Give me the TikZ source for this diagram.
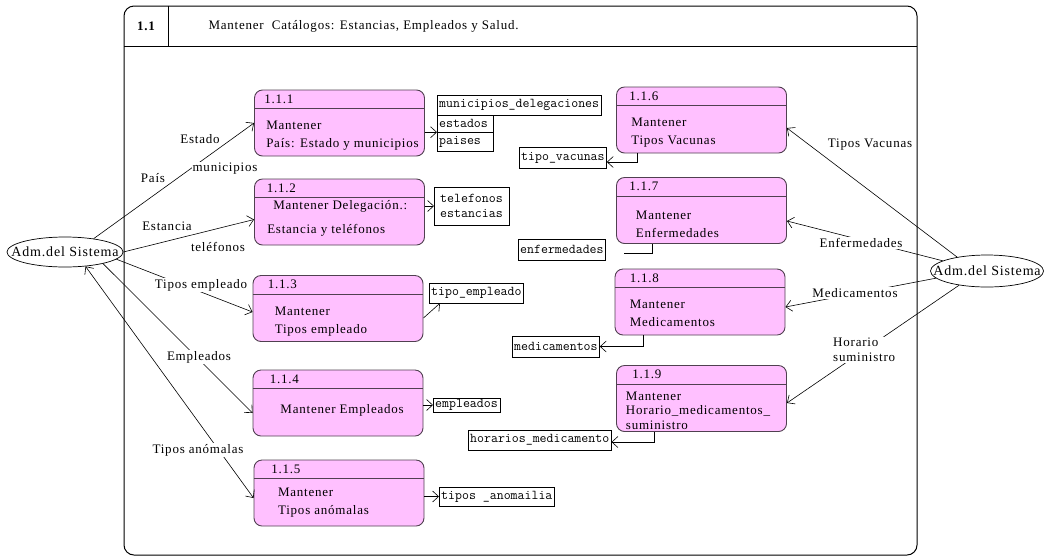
\documentclass[tikz,border=0pt]{standalone}
\usepackage{fontspec}
\setmainfont{Liberation Serif}[LetterSpace=6]
\usetikzlibrary{arrows.meta,calc,shapes.geometric}
\definecolor{rosaproc}{RGB}{255,192,255}
\definecolor{bordeproc}{RGB}{80,64,80}

\begin{document}
\begin{tikzpicture}[x=1pt,y=-1pt,
    font=\fontsize{13}{18}\selectfont,
    proceso/.style={draw=bordeproc, fill=rosaproc, line width=0.9pt, rounded corners=8pt,
      minimum width=170pt, minimum height=66pt, inner sep=0pt},
    cuerpo/.style={anchor=west, align=left, inner sep=0pt},
    almacen/.style={draw, fill=white, anchor=west, inner xsep=2pt, inner ysep=0pt,
      font=\ttfamily\fontsize{13.5}{15}\selectfont, align=left},
    actor/.style={draw, ellipse, inner sep=0pt, line width=0.7pt},
    rotulo/.style={font=\fontsize{14}{16}\selectfont},
    flujo/.style={-{Straight Barb[length=6pt,width=11pt]}, line width=0.6pt},
    flujodoble/.style={{Straight Barb[length=6pt,width=11pt]}-{Straight Barb[length=6pt,width=11pt]}, line width=0.6pt},
    etiqueta/.style={fill=white, inner sep=1pt}]

  \useasboundingbox (0,0) rectangle (1046,558);
  % Marco del diagrama
  \draw[line width=1pt, rounded corners=10pt] (124,6) rectangle (917,555);
  \draw[line width=1pt] (124,46) -- (917,46);
  \draw[line width=1pt] (168,6) -- (168,46);
  \node[font=\bfseries\fontsize{13}{15}\selectfont] (num) at (146,26) {1.1};
  \node[anchor=west] (titulo) at (205,26) {Mantener\ \ Catálogos: Estancias, Empleados y Salud.};

  % Procesos
  \foreach \n/\etq/\cx/\cy/\dx in {111/1.1.1/339.5/123/10, 112/1.1.2/339.5/212/12.5,
      113/1.1.3/338/308.5/15, 114/1.1.4/338/403/17, 115/1.1.5/339/493/17.5,
      116/1.1.6/701.5/120/13, 117/1.1.7/701.5/210.5/13, 118/1.1.8/700/302/15,
      119/1.1.9/701.5/398.5/16}{
    \node[proceso] (p\n) at (\cx,\cy) {};
    \draw[bordeproc, line width=0.9pt] ($(p\n.north west)+(0,19)$) -- ($(p\n.north east)+(0,19)$);
    \node[anchor=west, inner sep=0pt] (n\n) at ($(p\n.north west)+(\dx,9.5)$) {\etq};
  }
  \node[cuerpo] (c111) at ($(p111.west)+(12,12.5)$) {Mantener\\País: Estado y municipios};
  \node[cuerpo] (c112a) at ($(p112.west)+(19,-6)$) {Mantener Delegación.:};
  \node[cuerpo] (c112b) at ($(p112.west)+(13,18)$) {Estancia y teléfonos};
  \node[cuerpo] (c113) at ($(p113.west)+(22,12.7)$) {Mantener\\Tipos empleado};
  \node[cuerpo] (c114) at ($(p114.west)+(27.7,7)$) {Mantener Empleados};
  \node[cuerpo] (c115) at ($(p115.west)+(24.3,9.2)$) {Mantener\\Tipos anómalas};
  \node[cuerpo] (c116) at ($(p116.west)+(15,12.2)$) {Mantener\\Tipos Vacunas};
  \node[cuerpo] (c117) at ($(p117.west)+(19.7,13.3)$) {Mantener\\Enfermedades};
  \node[cuerpo] (c118) at ($(p118.west)+(15,11.2)$) {Mantener\\Medicamentos};
  \node[cuerpo, font=\fontsize{13}{14.5}\selectfont] (c119) at ($(p119.west)+(9.7,12)$)
    {Mantener\\Horario\_medicamentos\_\\suministro};

  % Almacenes
  \node[almacen, minimum height=20pt] (mundel) at (437,105) {municipios\_delegaciones};
  \node[almacen, minimum height=17pt, text width=52pt] (estados) at (437,123.5) {estados};
  \node[almacen, minimum height=19pt, text width=52pt] (paises) at (437,142) {paises};
  \node[almacen, minimum height=38pt, inner xsep=6pt] (telest) at (434,206) {telefonos\\estancias};
  \node[almacen, minimum height=20pt] (tipoemp) at (429,293) {tipo\_empleado};
  \node[almacen, minimum height=14pt] (empleados) at (433,405) {empleados};
  \node[almacen, minimum height=19pt] (tiposanom) at (439,496.5) {tipos \_anomailia};
  \node[almacen, minimum height=21pt] (tipovac) at (519,157.5) {tipo\_vacunas};
  \node[almacen, minimum height=21pt] (enferm) at (518,249.5) {enfermedades};
  \node[almacen, minimum height=21pt] (medic) at (512,346.5) {medicamentos};
  \node[almacen, minimum height=20pt] (horarios) at (468,440) {horarios\_medicamento};

  % Procesos a almacenes
  \draw[flujo] (p111.east |- estados.south west) -- (estados.south west);
  \draw[flujo] (p112.east |- telest.west) -- (telest.west);
  \draw[flujo] ($(p113.east)+(0,9.5)$) -- ($(tipoemp.south west)+(11,0)$);
  \draw[flujo] (p114.east |- empleados.west) -- (empleados.west);
  \draw[flujo] (p115.east |- tiposanom.west) -- (tiposanom.west);
  \draw[flujo] ($(p116.south west)+(21,0)$) |- ($(tipovac.east)+(0,4.5)$);
  \draw[line width=0.6pt] ($(p117.south west)+(36,0)$) |- ($(enferm.east)+(18,3.5)$);
  \draw[flujo] ($(p118.south west)+(29,0)$) |- (medic.east);
  \draw[flujo] ($(p119.south west)+(38,0)$) |- ($(horarios.east)+(0,2)$);

  % Actores
  \node[actor, minimum width=116pt, minimum height=30pt, label={[rotulo]center:Adm.del Sistema}] (admizq) at (65,252) {};
  \node[actor, minimum width=113pt, minimum height=32pt, label={[rotulo]center:Adm.del Sistema}] (admder) at (987,271) {};

  % Flujos del actor izquierdo
  \draw[flujo] (admizq.25) -- (p111.west);
  \draw[flujo] (admizq.east) -- ($(p112.west)+(0,7.5)$);
  \draw[flujo] (admizq.-8) -- ($(p113.west)+(0,3.5)$);
  \draw[flujo] (admizq.-17) -- ($(p114.west)+(0,10)$);
  \draw[flujodoble] (admizq.-35) -- ($(p115.west)+(0,5)$);
  % Flujos del actor derecho
  \draw[flujo] (admder.155) -- ($(p116.east)+(0,8)$);
  \draw[flujo] (admder.167) -- ($(p117.east)+(0,10.5)$);
  \draw[flujo] (admder.188) -- ($(p118.east)+(0,5)$);
  \draw[flujo] (admder.207) -- ($(p119.east)+(0,4.5)$);

  % Etiquetas de los flujos
  \node[etiqueta] (lestado) at (200,139) {Estado};
  \node[etiqueta] (lmunic) at (225,169) {municipios};
  \node[etiqueta] (lpais) at (153,178) {País};
  \node[etiqueta] (lestancia) at (167,226) {Estancia};
  \node[etiqueta] (ltelef) at (218,247) {teléfonos};
  \node[etiqueta] (ltemp) at (201,285) {Tipos empleado};
  \node[etiqueta] (lemp) at (199,357) {Empleados};
  \node[etiqueta] (lanom) at (198,450) {Tipos anómalas};
  \node[etiqueta] (lvac) at (870,145) {Tipos Vacunas};
  \node[etiqueta] (lenf) at (861,243) {Enfermedades};
  \node[etiqueta] (lmed) at (855,293) {Medicamentos};
  \node[etiqueta, anchor=west, align=left, font=\fontsize{13}{15}\selectfont] (lhor) at (832,350) {Horario\\suministro};
\end{tikzpicture}
\end{document}
